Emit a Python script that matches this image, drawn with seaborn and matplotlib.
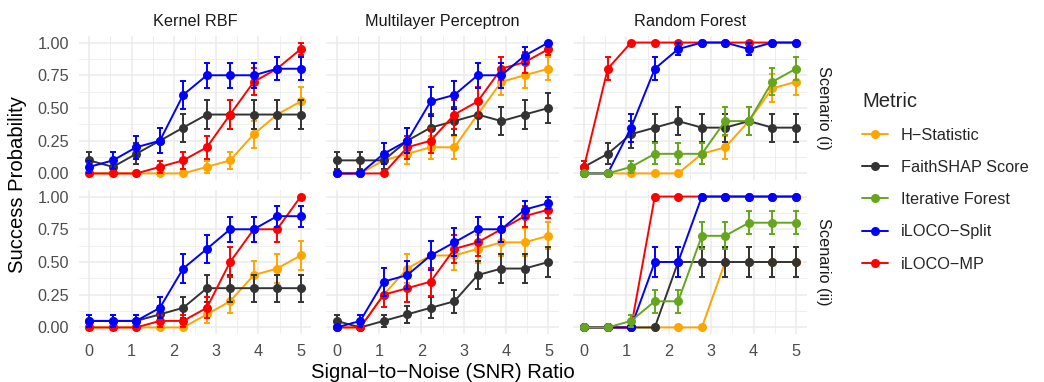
import numpy as np
import pandas as pd
import matplotlib
matplotlib.use("Agg")
import matplotlib.pyplot as plt
import seaborn as sns
from matplotlib.lines import Line2D
from matplotlib.ticker import MultipleLocator

# ---------------- data ----------------
snr = [0.0, 0.56, 1.11, 1.67, 2.22, 2.78, 3.33, 3.89, 4.44, 5.0]
models = ["Kernel RBF", "Multilayer Perceptron", "Random Forest"]
scenarios = ["Scenario (i)", "Scenario (ii)"]
metrics = ["H\u2212Statistic", "FaithSHAP Score", "Iterative Forest", "iLOCO\u2212Split", "iLOCO\u2212MP"]
colors = ["#FFA500", "#333333", "#66A61E", "#0000FF", "#FF0000"]
n_reps = 20

# Kernel RBF, scenario (i)
rbf_i_h = [0, 0, 0, 0, 0, 0.05, 0.10, 0.30, 0.45, 0.55]
rbf_i_faith = [0.10, 0.05, 0.15, 0.25, 0.35, 0.45, 0.45, 0.45, 0.45, 0.45]
rbf_i_split = [0.05, 0.10, 0.20, 0.25, 0.60, 0.75, 0.75, 0.75, 0.80, 0.80]
rbf_i_mp = [0, 0, 0, 0.05, 0.10, 0.20, 0.45, 0.70, 0.80, 0.95]
# Multilayer Perceptron, scenario (i)
mlp_i_h = [0, 0, 0.10, 0.15, 0.20, 0.20, 0.45, 0.70, 0.75, 0.80]
mlp_i_faith = [0.10, 0.10, 0.10, 0.25, 0.35, 0.40, 0.45, 0.40, 0.45, 0.50]
mlp_i_split = [0, 0, 0.15, 0.25, 0.55, 0.60, 0.75, 0.75, 0.90, 1.00]
mlp_i_mp = [0, 0, 0, 0.20, 0.25, 0.45, 0.55, 0.80, 0.85, 0.95]
# Random Forest, scenario (i)
rf_i_h = [0, 0, 0, 0, 0, 0.15, 0.20, 0.40, 0.65, 0.70]
rf_i_faith = [0.05, 0.15, 0.30, 0.35, 0.40, 0.35, 0.35, 0.40, 0.35, 0.35]
rf_i_iter = [0, 0, 0.05, 0.15, 0.15, 0.15, 0.40, 0.40, 0.70, 0.80]
rf_i_split = [0, 0, 0.35, 0.80, 0.95, 1.00, 1.00, 0.95, 1.00, 1.00]
rf_i_mp = [0.05, 0.80, 1.00, 1.00, 1.00, 1.00, 1.00, 1.00, 1.00, 1.00]
# Kernel RBF, scenario (ii)
rbf_ii_h = [0, 0, 0, 0, 0, 0.10, 0.20, 0.40, 0.45, 0.55]
rbf_ii_faith = [0.05, 0.05, 0.05, 0.10, 0.15, 0.30, 0.30, 0.30, 0.30, 0.30]
rbf_ii_split = [0.05, 0.05, 0.05, 0.15, 0.45, 0.60, 0.75, 0.75, 0.85, 0.85]
rbf_ii_mp = [0, 0, 0, 0.05, 0.05, 0.15, 0.50, 0.75, 0.75, 1.00]
# Multilayer Perceptron, scenario (ii)
mlp_ii_h = [0, 0, 0.25, 0.45, 0.55, 0.55, 0.60, 0.65, 0.65, 0.70]
mlp_ii_faith = [0.05, 0, 0.05, 0.10, 0.15, 0.20, 0.40, 0.45, 0.45, 0.50]
mlp_ii_split = [0, 0.05, 0.35, 0.40, 0.55, 0.65, 0.75, 0.75, 0.90, 0.95]
mlp_ii_mp = [0, 0, 0.25, 0.30, 0.35, 0.60, 0.65, 0.75, 0.85, 0.90]
# Random Forest, scenario (ii)
rf_ii_h = [0, 0, 0, 0, 0, 0, 0.50, 0.50, 0.50, 0.50]
rf_ii_faith = [0, 0, 0, 0, 0.50, 0.50, 0.50, 0.50, 0.50, 0.50]
rf_ii_iter = [0, 0, 0.05, 0.20, 0.20, 0.70, 0.70, 0.80, 0.80, 0.80]
rf_ii_split = [0, 0, 0, 0.50, 0.50, 1.00, 1.00, 1.00, 1.00, 1.00]
rf_ii_mp = [0, 0, 0, 1.00, 1.00, 1.00, 1.00, 1.00, 1.00, 1.00]

series = [
    ("Kernel RBF", "Scenario (i)", {metrics[0]: rbf_i_h, metrics[1]: rbf_i_faith, metrics[3]: rbf_i_split, metrics[4]: rbf_i_mp}),
    ("Multilayer Perceptron", "Scenario (i)", {metrics[0]: mlp_i_h, metrics[1]: mlp_i_faith, metrics[3]: mlp_i_split, metrics[4]: mlp_i_mp}),
    ("Random Forest", "Scenario (i)", {metrics[0]: rf_i_h, metrics[1]: rf_i_faith, metrics[2]: rf_i_iter, metrics[3]: rf_i_split, metrics[4]: rf_i_mp}),
    ("Kernel RBF", "Scenario (ii)", {metrics[0]: rbf_ii_h, metrics[1]: rbf_ii_faith, metrics[3]: rbf_ii_split, metrics[4]: rbf_ii_mp}),
    ("Multilayer Perceptron", "Scenario (ii)", {metrics[0]: mlp_ii_h, metrics[1]: mlp_ii_faith, metrics[3]: mlp_ii_split, metrics[4]: mlp_ii_mp}),
    ("Random Forest", "Scenario (ii)", {metrics[0]: rf_ii_h, metrics[1]: rf_ii_faith, metrics[2]: rf_ii_iter, metrics[3]: rf_ii_split, metrics[4]: rf_ii_mp}),
]

records = []
for model, scen, d in series:
    for metric, vals in d.items():
        for x, p in zip(snr, vals):
            records.append(dict(model=model, scenario=scen, metric=metric, snr=x, prob=p,
                                se=np.sqrt(p * (1 - p) / n_reps)))
df = pd.DataFrame(records)

# ---------------- figure ----------------
sns.set_theme(style="white")
plt.rcParams["font.family"] = ["Liberation Sans", "DejaVu Sans"]

W, H = 1044, 382
fig = plt.figure(figsize=(W / 100, H / 100), dpi=100)
fig.patch.set_facecolor("white")

col_x = [(78.7, 311.3), (326.0, 559.0), (573.4, 806.6)]
row_y = [(36.0, 180.0), (190.0, 334.0)]
palette = dict(zip(metrics, colors))
draw_order = [metrics[0], metrics[1], metrics[4], metrics[3], metrics[2]]
tick_col = "#4D4D4D"
grid_col = "#EBEBEB"

for ri, scen in enumerate(scenarios):
    for ci, model in enumerate(models):
        x0, x1 = col_x[ci]
        y0, y1 = row_y[ri]
        ax = fig.add_axes([x0 / W, 1 - y1 / H, (x1 - x0) / W, (y1 - y0) / H])
        ax.set_facecolor("white")
        for s in ax.spines.values():
            s.set_visible(False)
        ax.set_xlim(-0.25, 5.25)
        ax.set_ylim(-0.05, 1.05)
        ax.xaxis.set_major_locator(MultipleLocator(1))
        ax.xaxis.set_minor_locator(MultipleLocator(0.5))
        ax.yaxis.set_major_locator(MultipleLocator(0.25))
        ax.yaxis.set_minor_locator(MultipleLocator(0.125))
        ax.grid(True, which="major", color=grid_col, lw=1.1, zorder=0)
        ax.grid(True, which="minor", color=grid_col, lw=0.55, zorder=0)
        ax.set_axisbelow(True)
        ax.tick_params(which="both", length=0, colors=tick_col, labelsize=11.7, pad=7)
        if ci == 0:
            ax.set_yticks([0, 0.25, 0.5, 0.75, 1.0])
            ax.set_yticklabels(["0.00", "0.25", "0.50", "0.75", "1.00"])
        else:
            ax.set_yticklabels([])
        if ri == 1:
            ax.set_xticks([0, 1, 2, 3, 4, 5])
            ax.set_xticklabels(["0", "1", "2", "3", "4", "5"])
        else:
            ax.set_xticklabels([])

        sub_all = df[(df.model == model) & (df.scenario == scen)]
        for m in draw_order:
            sub = sub_all[sub_all.metric == m]
            if sub.empty:
                continue
            c = palette[m]
            ax.errorbar(sub.snr, sub.prob, yerr=sub.se, fmt="none", ecolor=c,
                        elinewidth=1.4, capsize=2.2, capthick=1.4, zorder=2)
            sns.lineplot(data=sub, x="snr", y="prob", color=c, marker="o",
                         markersize=6.5, markeredgewidth=0, linewidth=1.4,
                         errorbar=None, legend=False, ax=ax, zorder=2)
        ax.set_xlabel("")
        ax.set_ylabel("")

        if ri == 0:
            fig.text((x0 + x1) / 2 / W, 1 - 21.5 / H, model, ha="center", va="center",
                     fontsize=11.7, color="#1A1A1A")
        if ci == 2:
            fig.text(823 / W, 1 - (y0 + y1) / 2 / H, scen, ha="center", va="center",
                     rotation=270, fontsize=11.7, color="#1A1A1A")

fig.text(442.6 / W, 1 - 372 / H, "Signal\u2212to\u2212Noise (SNR) Ratio", ha="center",
         va="center", fontsize=14.6, color="black")
fig.text(18 / W, 1 - 185 / H, "Success Probability", ha="center", va="center",
         rotation=90, fontsize=14.6, color="black")

handles = [Line2D([], [], color=c, marker="o", lw=1.4, markersize=6.5, markeredgewidth=0)
           for c in colors]
leg = fig.legend(handles, metrics, title="Metric", loc="upper left",
                 bbox_to_anchor=(862 / W, 1 - 92 / H), frameon=False,
                 fontsize=11.7, title_fontsize=14.6, alignment="left",
                 labelspacing=1.06, handlelength=1.6, handletextpad=0.8,
                 borderaxespad=0, borderpad=0)
leg._legend_box.sep = 12

fig.savefig("out.png", dpi=100, facecolor="white")
